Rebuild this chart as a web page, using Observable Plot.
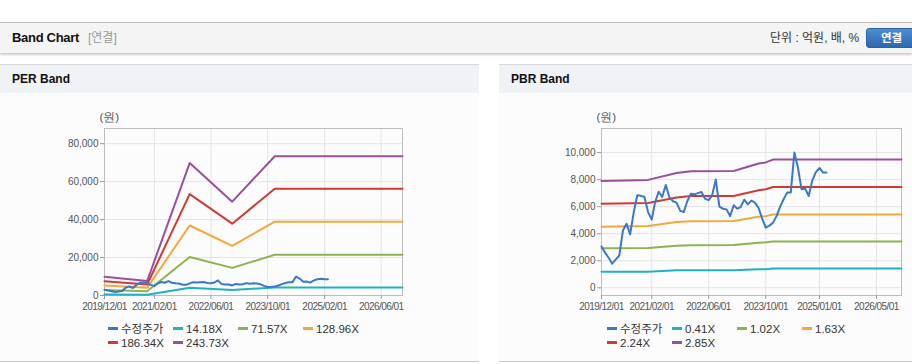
<!DOCTYPE html>
<html><head><meta charset="utf-8">
<script src="https://cdn.jsdelivr.net/npm/d3@7"></script>
<script src="https://cdn.jsdelivr.net/npm/@observablehq/plot@0.6"></script>
<style>
body{margin:0;width:912px;height:364px;position:relative;background:#fff;font-family:"Liberation Sans",Arial,"Noto Sans CJK KR",sans-serif;overflow:hidden}
.hdr{position:absolute;left:0;top:22px;width:912px;height:30px;background:#f4f4f4;border-top:1px solid #bdbdbd;box-shadow:0 2px 2px rgba(0,0,0,.2)}
.hdr .t{position:absolute;left:12px;top:0;line-height:30px;font-weight:bold;font-size:13px;letter-spacing:-0.3px;color:#111}
.hdr .s{position:absolute;left:88px;top:0;line-height:30px;font-size:12px;color:#999}
.hdr .u{position:absolute;left:770px;top:0;line-height:30px;font-size:12px;color:#333}
.btn{position:absolute;left:866px;top:5px;width:52px;height:18px;border:1px solid #2b62a3;border-radius:3px;background:linear-gradient(#4d8dd3,#2c69ae);color:#fff;font-weight:bold;font-size:11.5px;line-height:18px;text-indent:14px}
.panel{position:absolute;top:64px;height:296px;background:#fcfcfc;border-top:1px solid #d8d8d8;border-bottom:1px solid #c8c8c8}
.ph{height:28px;line-height:28px;background:#eff2f7;padding-left:12px;font-weight:bold;font-size:12px;color:#111}
.chart{position:absolute;left:0;top:28px}
.legend{position:absolute;top:258px;left:108px;width:264px;display:flex;flex-wrap:wrap;font-size:11.5px;color:#333;line-height:13.5px}
.legend .it{width:65px;white-space:nowrap}
.legend .sw{display:inline-block;width:10px;height:3px;vertical-align:middle;margin-right:3px;position:relative;top:-1px}
[aria-label="x-axis tick label"] text{letter-spacing:-0.55px}
</style></head>
<body>
<div class="hdr"><span class="t">Band Chart</span><span class="s">[연결]</span><span class="u">단위 : 억원, 배, %</span><div class="btn">연결</div></div>
<div class="panel" id="perPanel" style="left:0;width:479px"><div class="ph">PER Band</div></div>
<div class="panel" id="pbrPanel" style="left:499px;width:413px"><div class="ph">PBR Band</div></div>
<script>
// ---- shared price series (monthly, from 2019/12/01) ----
const priceLabel = "수정주가";
const priceStart = "2019/12/01";
const price = [3060,2600,2200,1780,2100,2390,4240,4740,3950,5600,6840,6800,6710,5600,5040,6300,7100,6710,7600,6710,6400,6300,5700,5600,6400,6960,6910,7000,7080,6590,6480,6840,8000,6000,5850,5800,5300,6100,5850,5970,6520,6170,6450,6300,5900,5100,4450,4600,4800,5300,6000,6550,7040,7040,10000,8900,7280,7330,6790,7950,8550,8860,8520,8520];

// ---- PER band ----
const perBandLabels = ["14.18X","71.57X","128.96X","186.34X","243.73X"];
const perBandDates = ["2019/12/01","2020/12/01","2021/12/01","2022/12/01","2023/12/01","2026/12/01"];
const per1418 = [580,440,4060,2880,4270,4270];
const per7157 = [2900,2230,20300,14550,21450,21450];
const per12896 = [5240,4020,36900,26200,38900,38900];
const per18634 = [7500,5800,53400,37850,56300,56300];
const per24373 = [9900,7600,69800,49450,73400,73400];
const perXTicks = ["2019/12/01","2021/02/01","2022/06/01","2023/10/01","2025/02/01","2026/06/01"];
const perYTicks = [0,20000,40000,60000,80000];

// ---- PBR band ----
const pbrBandLabels = ["0.41X","1.02X","1.63X","2.24X","2.85X"];
const pbrBandDates = ["2019/12/01","2021/01/01","2021/09/01","2022/01/01","2023/01/01","2023/08/01","2023/10/01","2023/12/01","2026/12/01"];
const pbr041 = [1190,1190,1300,1300,1300,1370,1380,1430,1430];
const pbr102 = [2930,2950,3110,3150,3160,3330,3360,3430,3430];
const pbr163 = [4520,4570,4860,4930,4940,5260,5300,5420,5420];
const pbr224 = [6210,6270,6670,6780,6790,7220,7290,7450,7450];
const pbr285 = [7900,7980,8490,8620,8640,9190,9270,9480,9480];
const pbrXTicks = ["2019/12/01","2021/02/01","2022/06/01","2023/10/01","2025/01/01","2026/05/01"];
const pbrYTicks = [0,2000,4000,6000,8000,10000];

const colors = ["#3a78c9","#1fb1c6","#8bb350","#f2a83c","#d13a30","#9a4f9c"];
const yUnit = "(원)";
const xStart = "2019/12/01", xEnd = "2026/12/01";

const parse = d3.utcParse("%Y/%m/%d");
const fmt = d3.utcFormat("%Y/%m/%d");

function build({panel, width, marginLeft, marginRight, yDomain, yTicks, xTicks, labels, dates, series}) {
  const priceRows = price.map((v, i) => ({date: d3.utcMonth.offset(parse(priceStart), i), value: v, series: priceLabel}));
  const bandRows = [];
  labels.forEach((lbl, j) => dates.forEach((d, i) => bandRows.push({date: parse(d), value: series[j][i], series: lbl})));
  const allLabels = [priceLabel, ...labels];
  const xt = xTicks.map(parse);
  const svg = Plot.plot({
    width, height: 225, marginLeft, marginRight, marginTop: 35, marginBottom: 23,
    style: {background: "transparent", color: "#555", fontSize: "10px", fontFamily: "'Liberation Sans', Arial, sans-serif"},
    x: {type: "utc", domain: [parse(xStart), parse(xEnd)]},
    y: {domain: yDomain},
    color: {domain: allLabels, range: colors},
    marks: [
      Plot.gridY(yTicks, {stroke: "#e4e4e4", strokeOpacity: 1}),
      Plot.gridX(xt, {stroke: "#e4e4e4", strokeOpacity: 1}),
      Plot.frame({stroke: "#bcbcbc"}),
      Plot.axisY(yTicks, {tickSize: 4, tickPadding: 2, tickFormat: d3.format(","), stroke: "#999", label: null}),
      Plot.axisX(xt, {tickSize: 4, tickPadding: 3, tickFormat: fmt, stroke: "#999", label: null}),
      Plot.line(bandRows, {x: "date", y: "value", z: "series", stroke: "series", strokeWidth: 2}),
      Plot.line(priceRows, {x: "date", y: "value", stroke: "series", strokeWidth: 2}),
      Plot.text([yUnit], {text: d => d, frameAnchor: "top-left", dx: -5, dy: -16, fontSize: 11.5, fill: "#555"})
    ]
  });
  const wrap = document.createElement("div");
  wrap.className = "chart";
  wrap.appendChild(svg);
  panel.appendChild(wrap);
  const lg = document.createElement("div");
  lg.className = "legend";
  allLabels.forEach((lbl, i) => {
    const it = document.createElement("div");
    it.className = "it";
    const sw = document.createElement("span");
    sw.className = "sw";
    sw.style.background = colors[i];
    it.appendChild(sw);
    it.appendChild(document.createTextNode(lbl));
    lg.appendChild(it);
  });
  panel.appendChild(lg);
}

build({panel: document.getElementById("perPanel"), width: 479, marginLeft: 104, marginRight: 77,
  yDomain: [0, 88000], yTicks: perYTicks, xTicks: perXTicks, labels: perBandLabels, dates: perBandDates,
  series: [per1418, per7157, per12896, per18634, per24373]});
build({panel: document.getElementById("pbrPanel"), width: 413, marginLeft: 102, marginRight: 11,
  yDomain: [-570, 11780], yTicks: pbrYTicks, xTicks: pbrXTicks, labels: pbrBandLabels, dates: pbrBandDates,
  series: [pbr041, pbr102, pbr163, pbr224, pbr285]});
</script>
</body></html>
